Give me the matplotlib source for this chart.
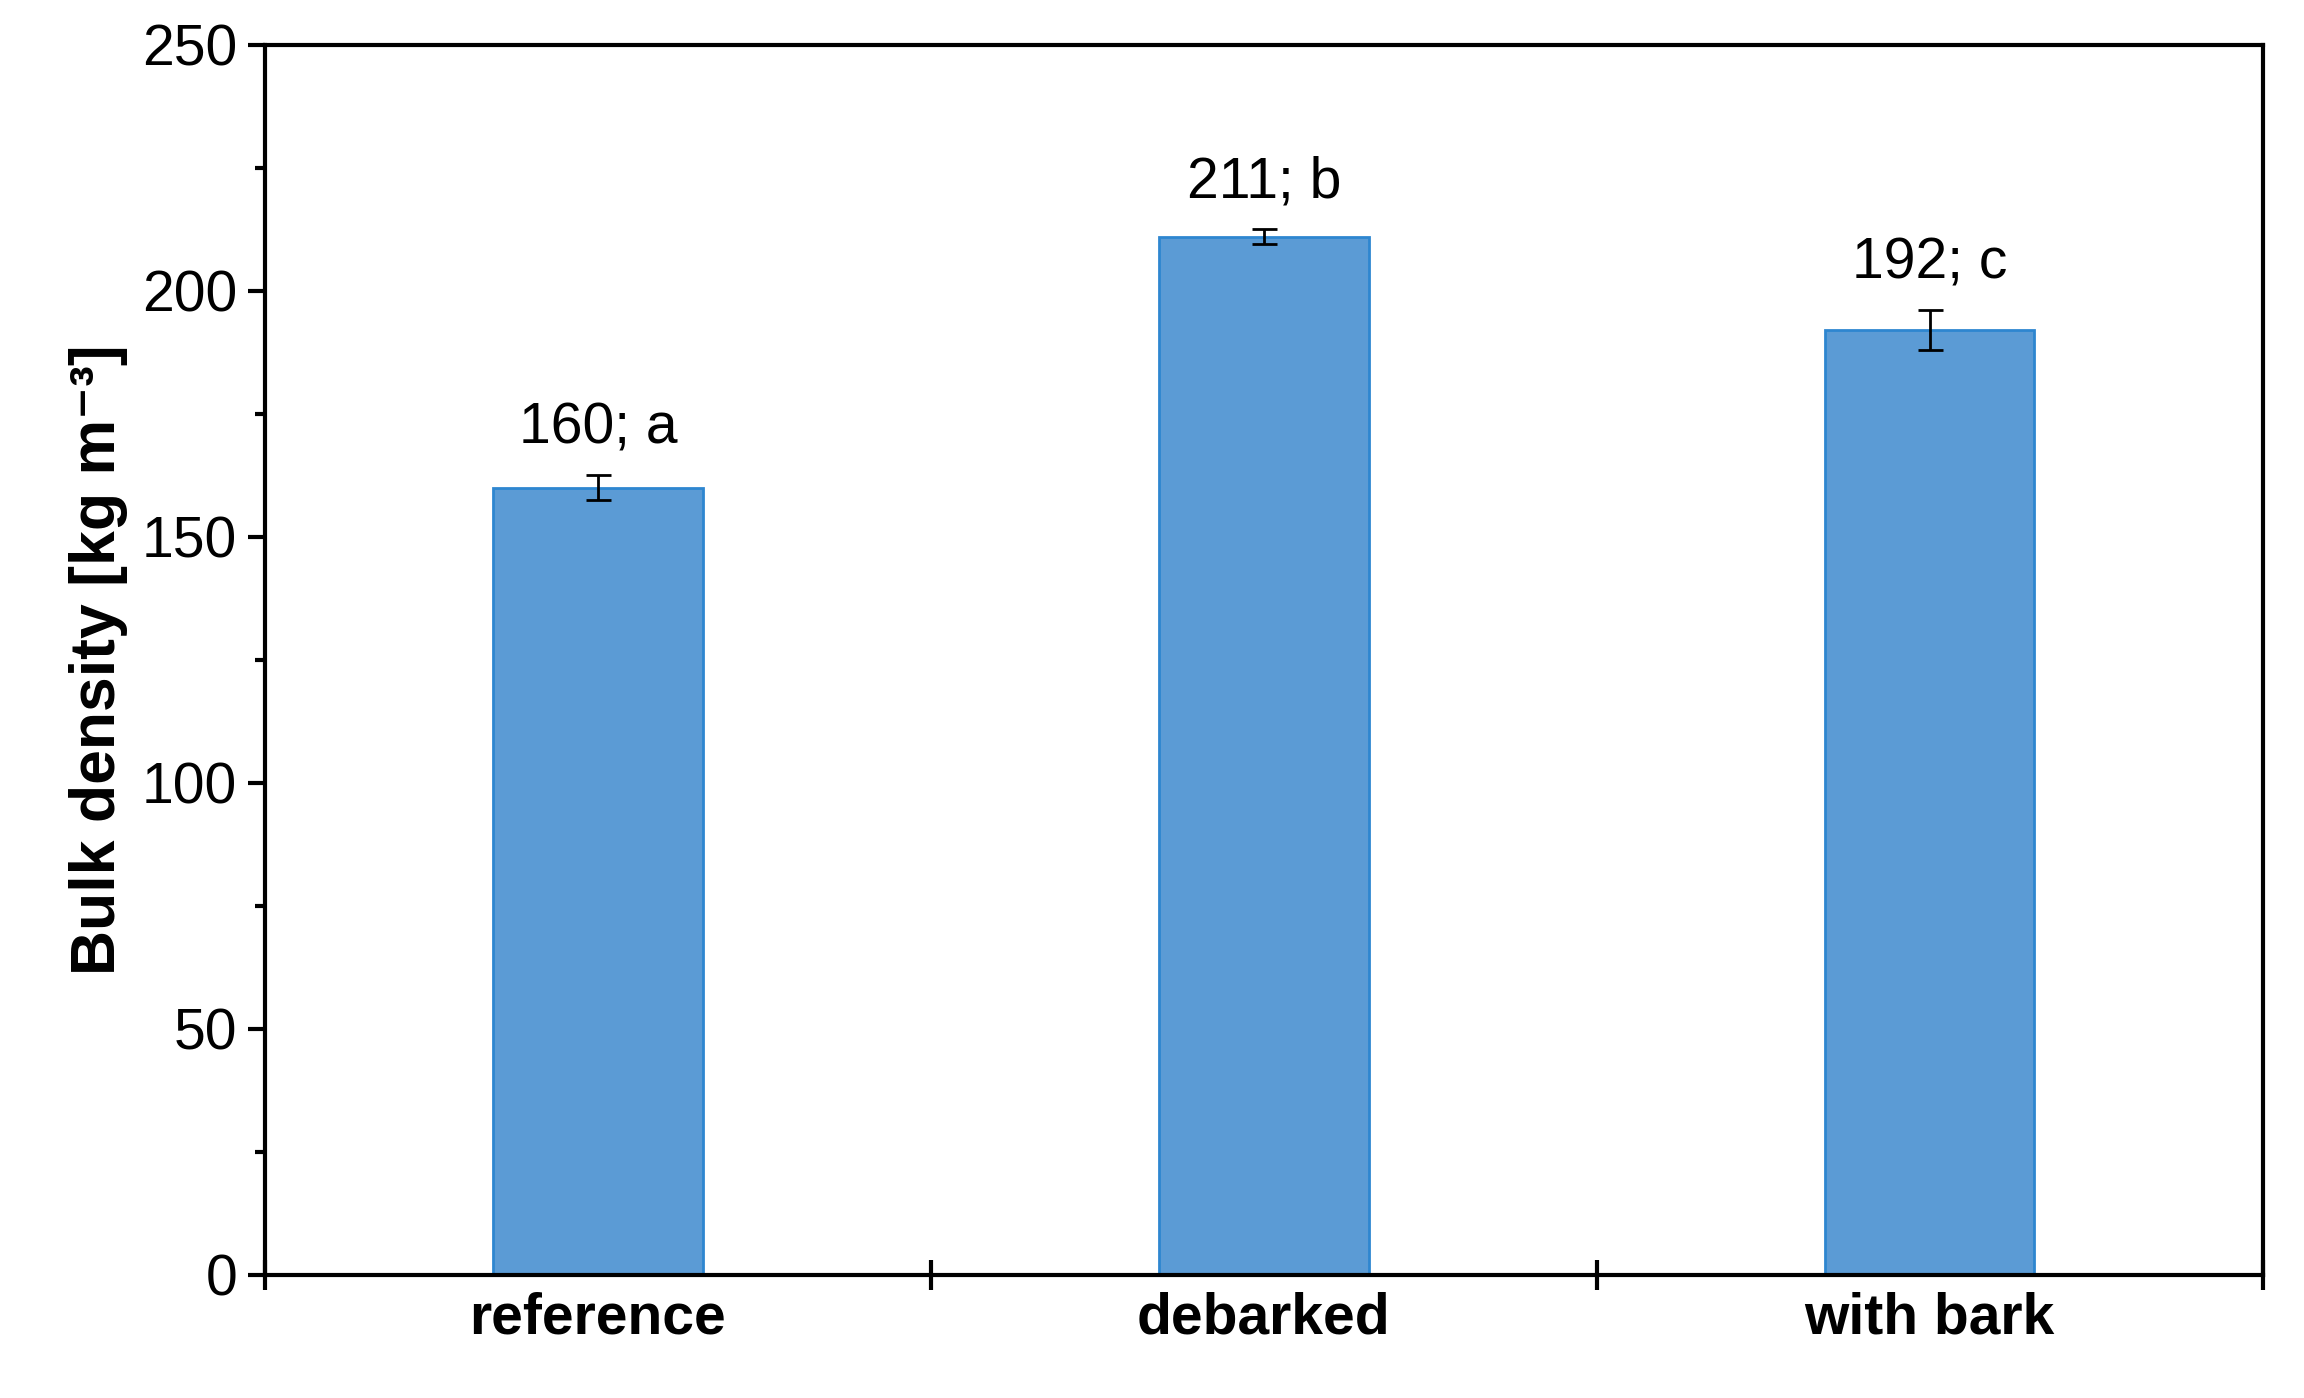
import matplotlib.pyplot as plt
from matplotlib.ticker import MultipleLocator

plt.rcParams["font.family"] = ["Liberation Sans", "DejaVu Sans"]

categories = ["reference", "debarked", "with bark"]
values = [160, 211, 192]
errors = [2.5, 1.5, 4.0]
labels = ["160; a", "211; b", "192; c"]

fig = plt.figure(figsize=(23.04, 13.98), dpi=100)
ax = fig.add_axes([0.115, 0.088, 0.867, 0.88])

pos = [i + 0.5 for i in range(len(categories))]
ax.bar(pos, values, width=0.315, color="#5b9bd5", edgecolor="#2e86d0", linewidth=2)
ax.errorbar(pos, values, yerr=errors, fmt="none", ecolor="black", elinewidth=2, capsize=9, capthick=2)
for x, v, e, t in zip(pos, values, errors, labels):
    ax.text(x, v + e + 4, t, ha="center", va="bottom", fontsize=41)

ax.set_xlim(0, 3)
ax.set_ylim(0, 250)
ax.yaxis.set_major_locator(MultipleLocator(50))
ax.yaxis.set_minor_locator(MultipleLocator(25))
ax.set_xticks([0, 1, 2, 3])
ax.set_xticklabels([])
ax.set_xticks(pos, minor=True)
ax.set_xticklabels(categories, minor=True, fontsize=41, fontweight="bold")
ax.tick_params(axis="x", which="minor", length=0, pad=12)
ax.tick_params(axis="x", which="major", direction="inout", length=22, width=3)
ax.tick_params(axis="y", which="major", direction="out", length=12, width=3, labelsize=41, pad=8)
ax.tick_params(axis="y", which="minor", direction="out", length=7, width=3)
for s in ax.spines.values():
    s.set_linewidth(3)
ax.set_ylabel("Bulk density [kg m⁻³]", fontsize=45, fontweight="bold", labelpad=10)

fig.savefig("out.png", dpi=100)
